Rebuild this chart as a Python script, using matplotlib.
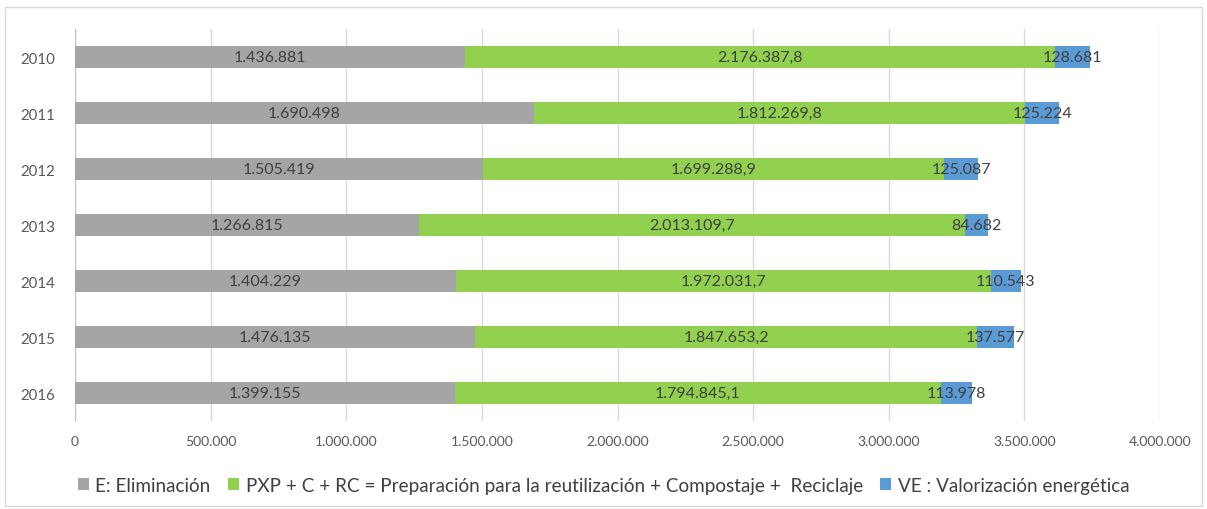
import numpy as np
from matplotlib import pyplot as plt
from matplotlib.patches import Rectangle

plt.rcParams['font.family'] = ['Lato', 'DejaVu Sans']

anios = ['2010', '2011', '2012', '2013', '2014', '2015', '2016']
eliminacion = [1436881, 1690498, 1505419, 1266815, 1404229, 1476135, 1399155]
reciclaje = [2176387.8, 1812269.8, 1699288.9, 2013109.7, 1972031.7, 1847653.2, 1794845.1]
valorizacion = [128681, 125224, 125087, 84682, 110543, 137577, 113978]

etiq_elim = ['1.436.881', '1.690.498', '1.505.419', '1.266.815', '1.404.229', '1.476.135', '1.399.155']
etiq_rec = ['2.176.387,8', '1.812.269,8', '1.699.288,9', '2.013.109,7', '1.972.031,7', '1.847.653,2', '1.794.845,1']
etiq_val = ['128.681', '125.224', '125.087', '84.682', '110.543', '137.577', '113.978']

ticks_x = [0, 500000, 1000000, 1500000, 2000000, 2500000, 3000000, 3500000, 4000000]
ticks_lab = ['0', '500.000', '1.000.000', '1.500.000', '2.000.000', '2.500.000', '3.000.000', '3.500.000', '4.000.000']

gris = '#a5a5a5'
verde = '#92d050'
azul = '#5b9bd5'

fig = plt.figure(figsize=(12.07, 5.10), dpi=100)
ax = fig.add_axes([0.0621, 0.1725, 0.899, 0.7686])

y = np.arange(len(anios))
e = np.array(eliminacion)
r = np.array(reciclaje)
v = np.array(valorizacion)
h = 0.4

b1 = ax.barh(y, e, height=h, color=gris, label='E: Eliminación', zorder=3)
b2 = ax.barh(y, r, left=e, height=h, color=verde,
             label='PXP + C + RC = Preparación para la reutilización + Compostaje +  Reciclaje', zorder=3)
b3 = ax.barh(y, v, left=e + r, height=h, color=azul, label='VE : Valorización energética', zorder=3)

for i in range(len(anios)):
    ax.text(e[i] / 2, y[i], etiq_elim[i], ha='center', va='center', fontsize=11.5, color='#404040', zorder=4)
    ax.text(e[i] + r[i] / 2, y[i], etiq_rec[i], ha='center', va='center', fontsize=11.5, color='#404040', zorder=4)
    ax.text(e[i] + r[i] + v[i] / 2, y[i], etiq_val[i], ha='center', va='center', fontsize=11.5, color='#404040', zorder=4)

ax.set_xlim(0, 4000000)
ax.set_ylim(6.5, -0.5)
ax.set_yticks(y)
ax.set_yticklabels(anios, fontsize=10.8, color='#595959')
ax.set_xticks(ticks_x)
ax.set_xticklabels(ticks_lab, fontsize=10, color='#595959')
ax.tick_params(length=0, pad=10)
ax.tick_params(axis='y', pad=14)
ax.grid(axis='x', color='#d9d9d9', lw=1, zorder=0)
for s in ['top', 'right', 'bottom']:
    ax.spines[s].set_visible(False)
ax.spines['left'].set_color('#bfbfbf')

fig.legend(handles=[b1, b2, b3], loc='center', bbox_to_anchor=(0.5, 0.047), ncol=3,
           frameon=False, fontsize=13.6, handlelength=0.6, handleheight=0.6,
           handletextpad=0.35, columnspacing=0.9, labelcolor='#404040')

fig.patches.append(Rectangle((0.004, 0.006), 0.992, 0.978, transform=fig.transFigure,
                             fill=False, edgecolor='#d9d9d9', lw=1))

plt.savefig('out.png', dpi=100)
